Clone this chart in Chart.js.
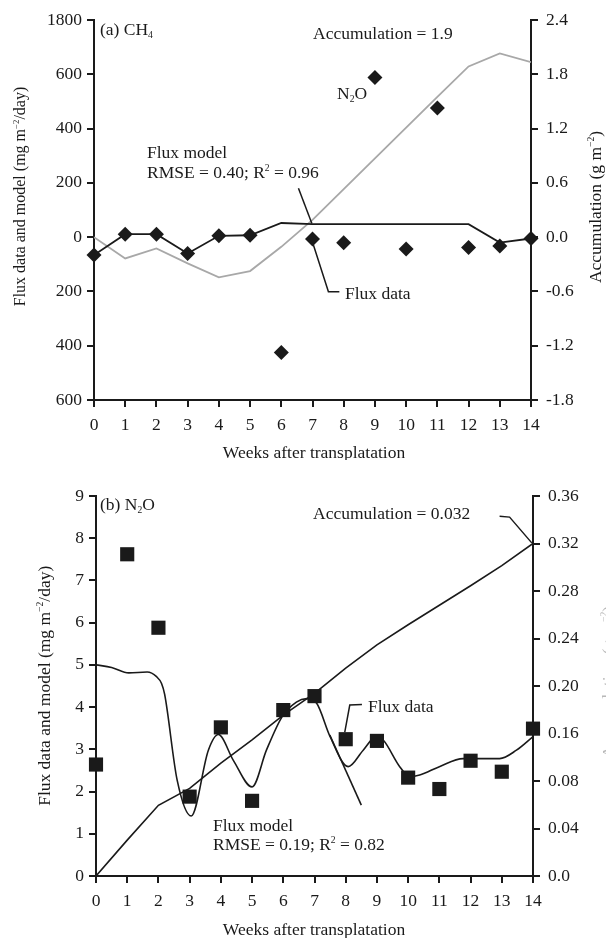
<!DOCTYPE html>
<html>
<head>
<meta charset="utf-8">
<script src="https://cdn.jsdelivr.net/npm/chart.js@4.4.1/dist/chart.umd.min.js"></script>
<style>
    body { margin: 0; background: #fff; }
    #boxA { position: absolute; left: 0; top: 0; width: 606px; height: 460px; }
    #boxB { position: absolute; left: 0; top: 460px; width: 606px; height: 478px; }
</style>
</head>
<body>
<div id="boxA"><canvas id="chartA" width="606" height="460"></canvas></div>
<div id="boxB"><canvas id="chartB" width="606" height="478"></canvas></div>
<script>
// Semanas (eixo x)
const semanas = [0, 1, 2, 3, 4, 5, 6, 7, 8, 9, 10, 11, 12, 13, 14];

// (a) CH4
const fluxoA = [-66, 11, 11, -60, 5, 7, -425, -7, -21, 588, -44, 476, -38, -33, -5];
const modeloA = [-66, 11, 11, -60, 5, 7, 52, 48, 48, 48, 48, 48, 48, -20, -5];
const acumA = [0, -0.235, -0.125, -0.29, -0.445, -0.375, -0.107, 0.19, 0.53, 0.87, 1.21, 1.55, 1.887, 2.03, 1.935];
const ticksEsqA = [-600, -400, -200, 0, 200, 400, 600, 800];
const labelsEsqA = ['600', '400', '200', '0', '200', '400', '600', '1800'];
const ticksDirA = [-1.8, -1.2, -0.6, 0, 0.6, 1.2, 1.8, 2.4];
const labelsDirA = ['-1.8', '-1.2', '-0.6', '0.0', '0.6', '1.2', '1.8', '2.4'];

// (b) N2O
const fluxoB = [2.64, 7.62, 5.88, 1.88, 3.52, 1.78, 3.93, 4.26, 3.24, 3.2, 2.33, 2.06, 2.73, 2.47, 3.49];
const modeloBx = [0, 0.5, 1.05, 1.64, 1.94, 2.1, 2.2, 2.6, 3.05, 3.6, 3.92, 4.4, 5.0, 5.46, 5.96, 6.42, 6.75, 7.07, 7.5, 8.08, 8.56, 8.98, 9.2, 9.73, 10.05, 10.37, 11.0, 11.76, 12.93, 13.47, 14];
const modeloBy = [5.0, 4.94, 4.81, 4.83, 4.72, 4.56, 4.3, 2.27, 1.42, 2.98, 3.35, 2.74, 2.11, 2.98, 3.77, 4.12, 4.2, 4.09, 3.3, 2.59, 2.98, 3.3, 3.22, 2.59, 2.35, 2.39, 2.59, 2.78, 2.78, 2.98, 3.3];
const caudaBx = [7.49, 8.5];
const caudaBy = [3.34, 1.68];
const acumB = [0, 0.034, 0.067, 0.083, 0.107, 0.129, 0.1525, 0.173, 0.197, 0.219, 0.238, 0.2565, 0.275, 0.294, 0.315];
const ticksEsqB = [0, 1, 2, 3, 4, 5, 6, 7, 8, 9];
const labelsEsqB = ['0', '1', '2', '3', '4', '5', '6', '7', '8', '9'];
const ticksDirB = [0, 0.045, 0.09, 0.135, 0.18, 0.225, 0.27, 0.315, 0.36];
const labelsDirB = ['0.0', '0.04', '0.08', '0.16', '0.20', '0.24', '0.28', '0.32', '0.36'];

const PRETO = '#1a1a1a';
const CINZA = '#a8a8a8';
const FONTE = "'Liberation Serif', 'Times New Roman', serif";
const TAM = 17.5;

Chart.defaults.font.family = FONTE;

const pares = (xs, ys) => xs.map((x, i) => ({ x: x, y: ys[i] }));

// texto com sub/sobrescrito
function desenhaTexto(ctx, partes, x, y, tam, alinhar) {
    const medidas = partes.map(p => {
        const t = p[1] ? tam * 0.55 : tam;
        ctx.font = t + 'px ' + FONTE;
        return { txt: p[0], tipo: p[1], t: t, w: ctx.measureText(p[0]).width };
    });
    const total = medidas.reduce((s, m) => s + m.w, 0);
    let cx = alinhar === 'center' ? x - total / 2 : x;
    medidas.forEach(m => {
        ctx.font = m.t + 'px ' + FONTE;
        const dy = m.tipo === 'sub' ? tam * 0.18 : (m.tipo === 'sup' ? -tam * 0.4 : 0);
        ctx.fillText(m.txt, cx, y + dy);
        cx += m.w;
    });
}

const anotacoes = {
    chartA: {
        linhas: [
            [[6.55, 180], [6.98, 50]],
            [[7.03, -29], [7.51, -201], [7.86, -201]]
        ],
        textos: [
            { partes: [['(a) CH'], ['4', 'sub']], x: 100, y: 35 },
            { partes: [['Accumulation = 1.9']], x: 313, y: 39 },
            { partes: [['N'], ['2', 'sub'], ['O']], x: 337, y: 99 },
            { partes: [['Flux model']], x: 147, y: 157.7 },
            { partes: [['RMSE = 0.40; R'], ['2', 'sup'], [' = 0.96']], x: 147, y: 177.7 },
            { partes: [['Flux data']], x: 345, y: 299 },
            { partes: [['Weeks after transplatation']], x: 314, y: 458, alinhar: 'center' },
            { partes: [['Flux data and model (mg m'], ['\u22122', 'sup'], ['/day)']], x: 25, y: 196.5, rot: true, tam: 16 },
            { partes: [['Accumulation (g m'], ['\u22122', 'sup'], [')']], x: 601, y: 207, rot: true }
        ]
    },
    chartB: {
        linhas: [
            [[12.93, 8.52], [13.25, 8.5], [13.96, 7.89]],
            [[7.97, 3.41], [8.13, 4.05], [8.52, 4.06]]
        ],
        textos: [
            { partes: [['(b) N'], ['2', 'sub'], ['O']], x: 100, y: 50 },
            { partes: [['Accumulation = 0.032']], x: 313, y: 59.3 },
            { partes: [['Flux data']], x: 368, y: 252.3 },
            { partes: [['Flux model']], x: 213, y: 370.7 },
            { partes: [['RMSE = 0.19; R'], ['2', 'sup'], [' = 0.82']], x: 213, y: 390 },
            { partes: [['Weeks after transplatation']], x: 314, y: 475, alinhar: 'center' },
            { partes: [['Flux data and model (mg m'], ['\u22122', 'sup'], ['/day)']], x: 50, y: 225.8, rot: true },
            { partes: [['Accumulation (g m'], ['\u22122', 'sup'], [')']], x: 614, y: 222, rot: true, cor: '#b8b8b8' }
        ]
    }
};

const pluginAnotacoes = {
    id: 'anotacoes',
    afterDraw(chart) {
        const cfg = anotacoes[chart.canvas.id];
        if (!cfg) return;
        const ctx = chart.ctx;
        const sx = chart.scales.x, sy = chart.scales.y;
        ctx.save();
        ctx.strokeStyle = PRETO;
        ctx.lineWidth = 1.5;
        cfg.linhas.forEach(l => {
            ctx.beginPath();
            l.forEach((p, i) => {
                const px = sx.getPixelForValue(p[0]);
                const py = sy.getPixelForValue(p[1]);
                if (i) ctx.lineTo(px, py); else ctx.moveTo(px, py);
            });
            ctx.stroke();
        });
        ctx.textBaseline = 'alphabetic';
        cfg.textos.forEach(t => {
            ctx.fillStyle = t.cor || PRETO;
            const tam = t.tam || TAM;
            if (t.rot) {
                ctx.save();
                ctx.translate(t.x, t.y);
                ctx.rotate(-Math.PI / 2);
                desenhaTexto(ctx, t.partes, 0, 0, tam, 'center');
                ctx.restore();
            } else {
                desenhaTexto(ctx, t.partes, t.x, t.y, tam, t.alinhar || 'left');
            }
        });
        ctx.restore();
    }
};

function eixo(extra) {
    return Object.assign({
        type: 'linear',
        grid: { drawOnChartArea: false, drawTicks: true, tickLength: 7, color: PRETO, lineWidth: 2 },
        border: { display: true, color: PRETO, width: 2 },
        ticks: { color: PRETO, font: { family: FONTE, size: TAM } }
    }, extra);
}

function eixoY(pos, min, max, vals, labels, largura, pad) {
    return eixo({
        position: pos,
        min: min,
        max: max,
        afterBuildTicks: s => { s.ticks = vals.map(v => ({ value: v })); },
        afterFit: s => { s.width = largura; },
        ticks: {
            color: PRETO, padding: pad, font: { family: FONTE, size: TAM },
            callback: (v, i) => labels[i]
        }
    });
}

function eixoX(altura) {
    return eixo({
        position: 'bottom',
        min: 0,
        max: 14,
        afterBuildTicks: s => { s.ticks = semanas.map(v => ({ value: v })); },
        afterFit: s => { s.height = altura; },
        ticks: { color: PRETO, padding: 8, font: { family: FONTE, size: TAM }, maxRotation: 0, autoSkip: false }
    });
}

function opcoes(topo, alturaX, esq, dir) {
    return {
        responsive: false,
        animation: false,
        devicePixelRatio: 1,
        layout: { padding: { top: topo, left: 0, right: 0, bottom: 0 } },
        plugins: { legend: { display: false }, tooltip: { enabled: false } },
        scales: { x: eixoX(alturaX), y: esq, y1: dir }
    };
}

new Chart(document.getElementById('chartA'), {
    type: 'line',
    data: {
        datasets: [
            {
                label: 'Flux data',
                data: pares(semanas, fluxoA),
                showLine: false,
                clip: false,
                pointStyle: 'rectRot',
                pointRadius: 7.5,
                backgroundColor: PRETO,
                borderColor: PRETO,
                borderWidth: 0
            },
            {
                label: 'Flux model',
                data: pares(semanas, modeloA),
                borderColor: PRETO,
                borderWidth: 1.8,
                pointRadius: 0,
                tension: 0
            },
            {
                label: 'Accumulation',
                data: pares(semanas, acumA),
                yAxisID: 'y1',
                borderColor: CINZA,
                borderWidth: 1.8,
                pointRadius: 0,
                tension: 0
            }
        ]
    },
    options: opcoes(20, 60,
        eixoY('left', -600, 800, ticksEsqA, labelsEsqA, 94, 5),
        eixoY('right', -1.8, 2.4, ticksDirA, labelsDirA, 75, 8)),
    plugins: [pluginAnotacoes]
});

new Chart(document.getElementById('chartB'), {
    type: 'line',
    data: {
        datasets: [
            {
                label: 'Flux data',
                data: pares(semanas, fluxoB),
                showLine: false,
                clip: false,
                pointStyle: 'rect',
                pointRadius: 10,
                backgroundColor: PRETO,
                borderColor: PRETO,
                borderWidth: 0
            },
            {
                label: 'Flux model',
                data: pares(modeloBx, modeloBy),
                borderColor: PRETO,
                borderWidth: 1.6,
                pointRadius: 0,
                cubicInterpolationMode: 'monotone'
            },
            {
                label: 'Flux model (tail)',
                data: pares(caudaBx, caudaBy),
                borderColor: PRETO,
                borderWidth: 1.6,
                pointRadius: 0
            },
            {
                label: 'Accumulation',
                data: pares(semanas, acumB),
                yAxisID: 'y1',
                borderColor: PRETO,
                borderWidth: 1.6,
                pointRadius: 0,
                tension: 0
            }
        ]
    },
    options: opcoes(36, 62,
        eixoY('left', 0, 9, ticksEsqB, labelsEsqB, 96, 5),
        eixoY('right', 0, 0.36, ticksDirB, labelsDirB, 73, 8)),
    plugins: [pluginAnotacoes]
});
</script>
</body>
</html>
